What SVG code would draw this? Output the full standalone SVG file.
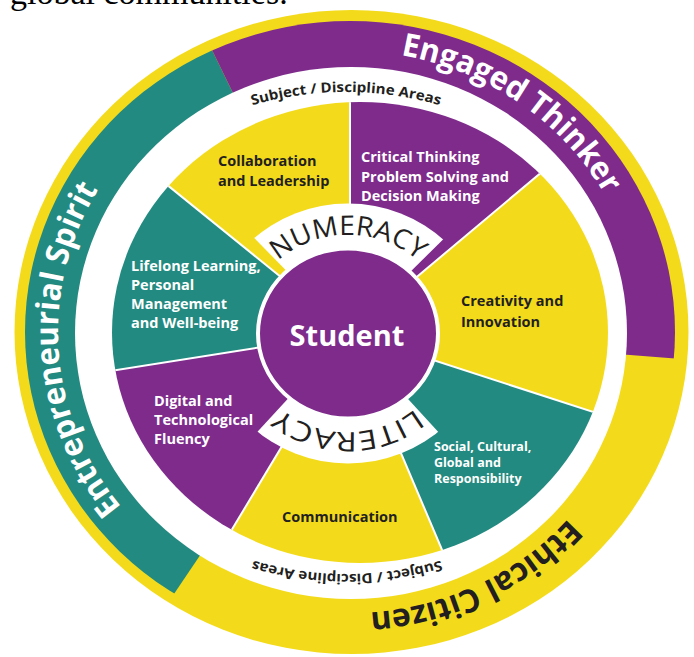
<svg xmlns="http://www.w3.org/2000/svg" width="694" height="657" viewBox="0 0 694 657">
<style>
.p{fill:#7e2b8c}.t{fill:#228a80}.y{fill:#f3db1c}.w{fill:#fff}
.lbl{font-family:"Open Sans","Noto Sans","Liberation Sans",sans-serif;font-weight:700;font-size:14.5px}
.lw{fill:#fff}.ld{fill:#231f20}
.big{font-family:"Open Sans","Noto Sans","Liberation Sans",sans-serif;font-weight:700;font-size:32px}
.sub{font-family:"Open Sans","Noto Sans","Liberation Sans",sans-serif;font-weight:700;font-size:14px;fill:#231f20}
.lit{font-family:"Open Sans","Noto Sans","Liberation Sans",sans-serif;font-weight:400;font-size:27px;fill:#231f20}
.sep{stroke:#fff;stroke-width:2;fill:none}
</style>
<defs>
<clipPath id="bandClip"><ellipse cx="350" cy="332" rx="325" ry="311"/></clipPath>
<clipPath id="sectorClip"><ellipse cx="360" cy="332.5" rx="248" ry="230.5"/></clipPath>
<clipPath id="hubClip"><ellipse cx="348" cy="333.5" rx="138" ry="130"/></clipPath>
<path id="arcET" d="M327.6,51.8 A292,281 0 0,1 632.8,262.1"/>
<path id="arcES" d="M140,527.2 A292,281 0 0,1 113.8,166.8"/>
<path id="arcEC" d="M617.6,444.5 A292,281 0 0,1 281.3,605.1"/>
<path id="arcSubTop" d="M127.5,171.5 A340,340 0 0,1 564.5,171.5"/>
<path id="arcSubBot" d="M559.1,496.8 A330,330 0 0,1 134.9,496.8"/>
<path id="arcNum" d="M244,333.5 A104,98.5 0 0,1 452,333.5"/>
<path id="arcLit" d="M452,333.5 A104,98.5 0 0,1 244,333.5"/>
</defs>
<rect width="694" height="657" fill="#fff"/>
<text x="10" y="4" font-family="Liberation Serif,serif" font-size="34" fill="#000">global communities.</text>

<g id="outer-ring">
<ellipse class="y" cx="351.5" cy="332" rx="337" ry="322"/>
<g clip-path="url(#bandClip)">
<polygon class="t" points="350,333 14.5,830.4 -248.6,291.1 87,-206.3"/>
<polygon class="p" points="350,333 87,-206.3 685.5,-164.4 948.1,380.1"/>
</g>
</g>
<g id="engaged-thinker"><text class="big lw"><textPath href="#arcET" startOffset="50%" text-anchor="middle" textLength="255" lengthAdjust="spacingAndGlyphs">Engaged Thinker</textPath></text></g>
<g id="entrepreneurial-spirit"><text class="big lw"><textPath href="#arcES" startOffset="50%" text-anchor="middle" textLength="340" lengthAdjust="spacingAndGlyphs">Entrepreneurial Spirit</textPath></text></g>
<g id="ethical-citizen"><text class="big ld"><textPath href="#arcEC" startOffset="50%" text-anchor="middle" textLength="225" lengthAdjust="spacingAndGlyphs">Ethical Citizen</textPath></text></g>

<g id="subject-ring">
<ellipse class="w" cx="351" cy="333" rx="276" ry="266"/>
<text class="sub"><textPath href="#arcSubTop" startOffset="50%" text-anchor="middle" textLength="190" lengthAdjust="spacingAndGlyphs">Subject / Discipline Areas</textPath></text>
<text class="sub"><textPath href="#arcSubBot" startOffset="50%" text-anchor="middle" textLength="190" lengthAdjust="spacingAndGlyphs">Subject / Discipline Areas</textPath></text>
</g>

<g id="critical-thinking">
<polygon class="p" clip-path="url(#sectorClip)" points="350,333 350,-267 809.6,-52.7"/>
<text class="lbl lw"><tspan x="361" y="162">Critical Thinking</tspan><tspan x="361" y="182">Problem Solving and</tspan><tspan x="361" y="201">Decision Making</tspan></text>
</g>
<g id="creativity">
<polygon class="y" clip-path="url(#sectorClip)" points="350,333 809.6,-52.7 920.7,518.4"/>
<text class="lbl ld"><tspan x="461" y="306">Creativity and</tspan><tspan x="461" y="327">Innovation</tspan></text>
</g>
<g id="social">
<polygon class="t" clip-path="url(#sectorClip)" points="350,333 920.7,518.4 584.4,885.3"/>
<text class="lbl lw" style="font-size:12.5px"><tspan x="434" y="451">Social, Cultural,</tspan><tspan x="434" y="467">Global and</tspan><tspan x="434" y="483">Responsibility</tspan></text>
</g>
<g id="communication">
<polygon class="y" clip-path="url(#sectorClip)" points="350,333 584.4,885.3 41,847.3"/>
<text class="lbl ld" x="282" y="522">Communication</text>
</g>
<g id="digital">
<polygon class="p" clip-path="url(#sectorClip)" points="350,333 41,847.3 -242.6,426.9"/>
<text class="lbl lw"><tspan x="154" y="406">Digital and</tspan><tspan x="154" y="425">Technological</tspan><tspan x="154" y="444">Fluency</tspan></text>
</g>
<g id="lifelong">
<polygon class="t" clip-path="url(#sectorClip)" points="350,333 -242.6,426.9 -116.3,-44.6"/>
<text class="lbl lw"><tspan x="131" y="271">Lifelong Learning,</tspan><tspan x="131" y="290">Personal</tspan><tspan x="131" y="309">Management</tspan><tspan x="131" y="328">and Well-being</tspan></text>
</g>
<g id="collaboration">
<polygon class="y" clip-path="url(#sectorClip)" points="350,333 -116.3,-44.6 350,-267"/>
<text class="lbl ld"><tspan x="218" y="166">Collaboration</tspan><tspan x="218" y="186">and Leadership</tspan></text>
</g>

<g id="separators" clip-path="url(#sectorClip)">
<line class="sep" x1="350" y1="333" x2="350" y2="-267"/>
<line class="sep" x1="350" y1="333" x2="809.6" y2="-52.7"/>
<line class="sep" x1="350" y1="333" x2="920.7" y2="518.4"/>
<line class="sep" x1="350" y1="333" x2="584.4" y2="885.3"/>
<line class="sep" x1="350" y1="333" x2="41" y2="847.3"/>
<line class="sep" x1="350" y1="333" x2="-242.6" y2="426.9"/>
<line class="sep" x1="350" y1="333" x2="-116.3" y2="-44.6"/>
</g>

<g id="numeracy">
<polygon class="w" clip-path="url(#hubClip)" points="348,333.5 208.6,191.6 350,133 491.4,191.6"/>
<text class="lit"><textPath href="#arcNum" startOffset="50%" text-anchor="middle" textLength="152" lengthAdjust="spacingAndGlyphs">NUMERACY</textPath></text>
</g>
<g id="literacy">
<polygon class="w" clip-path="url(#hubClip)" points="348,333.5 483.8,481.6 350,533 213.6,479.3"/>
<text class="lit"><textPath href="#arcLit" startOffset="50%" text-anchor="middle" textLength="145" lengthAdjust="spacingAndGlyphs">LITERACY</textPath></text>
</g>
<g id="student">
<ellipse class="p" cx="348" cy="333.5" rx="90" ry="85" stroke="#fff" stroke-width="4"/>
<text x="347" y="346" text-anchor="middle" font-family="Open Sans,Noto Sans,Liberation Sans,sans-serif" font-weight="700" font-size="29" fill="#fff">Student</text>
</g>
</svg>
